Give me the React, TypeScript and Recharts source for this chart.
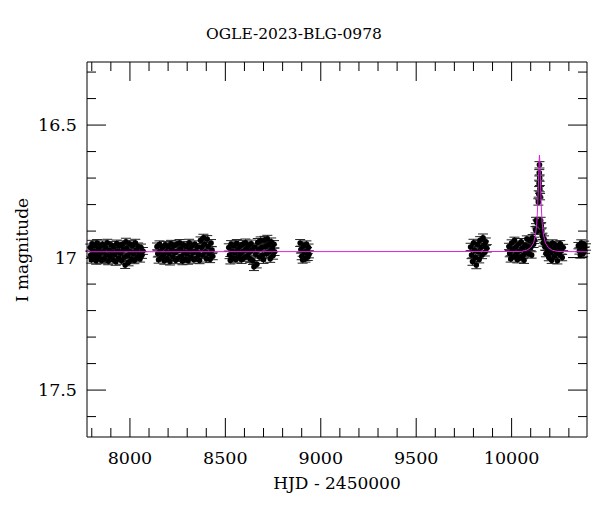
import React from 'react';
import { ComposedChart, Scatter, XAxis, YAxis, ErrorBar } from 'recharts';

// OGLE photometry, one array per observing season: [HJD - 2450000, I mag]
const season1: [number, number][] = [
  [7792, 16.962], [7795, 16.99], [7798, 17.008], [7802, 16.948], [7806, 16.975], [7810, 17.002],
  [7815, 16.955], [7819, 16.985], [7823, 17.012], [7828, 16.945], [7833, 16.97], [7837, 16.998],
  [7842, 16.958], [7846, 16.982], [7851, 17.01], [7856, 16.95], [7861, 16.978], [7866, 17.005],
  [7871, 16.962], [7876, 16.99], [7881, 16.944], [7886, 17.014], [7891, 16.972], [7896, 16.996],
  [7901, 16.952], [7906, 16.98], [7911, 17.008], [7916, 16.96], [7921, 16.988], [7926, 17.016],
  [7931, 16.947], [7936, 16.975], [7941, 17.002], [7946, 16.956], [7951, 16.984], [7956, 17.012],
  [7961, 16.95], [7966, 16.97], [7971, 16.998], [7975, 17.028], [7979, 16.94], [7983, 16.965],
  [7988, 16.992], [7993, 17.018], [7998, 16.948], [8003, 16.978], [8008, 17.006], [8013, 16.955],
  [8018, 16.985], [8023, 17.01], [8028, 16.944], [8033, 16.972], [8038, 17.0], [8043, 16.958],
  [8048, 16.986], [8053, 17.004], [8058, 16.962], [8063, 16.99], [8068, 16.975],
];
const season2: [number, number][] = [
  [8142, 16.958], [8146, 16.985], [8150, 17.008], [8155, 16.95], [8160, 16.975], [8165, 17.0],
  [8170, 16.962], [8175, 16.99], [8180, 17.012], [8185, 16.952], [8190, 16.978], [8195, 17.004],
  [8200, 16.958], [8205, 16.985], [8210, 17.015], [8215, 16.948], [8220, 16.972], [8225, 16.998],
  [8230, 16.955], [8235, 16.982], [8240, 17.01], [8245, 16.95], [8250, 16.975], [8255, 17.002],
  [8260, 16.945], [8265, 16.968], [8270, 16.995], [8275, 17.014], [8280, 16.952], [8285, 16.98],
  [8290, 17.006], [8295, 16.958], [8300, 16.986], [8305, 17.012], [8310, 16.944], [8315, 16.97],
  [8320, 16.998], [8325, 16.955], [8330, 16.982], [8335, 17.008], [8340, 16.95], [8345, 16.975],
  [8350, 17.002], [8355, 16.96], [8360, 16.988], [8365, 17.01], [8370, 16.935], [8375, 16.962],
  [8380, 16.99], [8385, 16.925], [8390, 16.95], [8395, 16.978], [8400, 17.004], [8405, 16.93],
  [8410, 16.958], [8415, 16.985], [8420, 17.006], [8425, 16.945], [8430, 16.972], [8434, 16.995],
];
const season3: [number, number][] = [
  [8518, 16.962], [8522, 16.99], [8526, 17.01], [8530, 16.95], [8535, 16.976], [8540, 17.002],
  [8545, 16.955], [8550, 16.982], [8555, 17.006], [8560, 16.946], [8565, 16.972], [8570, 16.998],
  [8575, 16.958], [8580, 16.985], [8585, 17.008], [8590, 16.95], [8595, 16.975], [8600, 17.0],
  [8605, 16.944], [8610, 16.968], [8615, 16.994], [8620, 16.955], [8625, 16.98], [8630, 17.005],
  [8635, 16.948], [8640, 16.972], [8645, 17.012], [8650, 17.035], [8655, 16.96], [8660, 16.988],
  [8665, 17.025], [8670, 16.942], [8675, 16.97], [8680, 16.998], [8685, 16.936], [8690, 16.962],
  [8695, 16.99], [8700, 17.008], [8705, 16.934], [8710, 16.958], [8715, 16.985], [8720, 16.93],
  [8725, 16.952], [8730, 16.978], [8735, 17.004], [8740, 16.94], [8745, 16.965], [8750, 16.992],
  [8755, 16.95], [8758, 16.978],
];
const season4: [number, number][] = [
  [8892, 16.945], [8896, 16.97], [8900, 16.995], [8905, 17.008], [8910, 16.955], [8915, 16.98],
  [8920, 17.004], [8925, 16.95], [8928, 16.975], [8932, 16.998], [8936, 16.962], [8938, 16.988],
];
const season5: [number, number][] = [
  [9785, 16.96], [9790, 16.99], [9795, 17.015], [9800, 16.945], [9805, 16.972], [9810, 17.0],
  [9815, 17.028], [9820, 16.95], [9825, 16.978], [9830, 17.006], [9835, 16.935], [9840, 16.962],
  [9845, 16.99], [9850, 16.925], [9855, 16.952], [9860, 16.98], [9865, 16.94], [9870, 16.965],
];
const season6: [number, number][] = [
  [9986, 16.958], [9990, 16.985], [9995, 17.005], [10000, 16.945], [10005, 16.97], [10010, 16.996],
  [10015, 16.935], [10020, 16.962], [10025, 16.988], [10030, 17.008], [10035, 16.95], [10040, 16.975],
  [10045, 17.0], [10050, 16.94], [10055, 16.965], [10060, 16.992], [10065, 17.01], [10070, 16.955],
  [10075, 16.98], [10080, 16.93], [10085, 16.958], [10090, 16.985], [10095, 16.935], [10100, 16.962],
  [10105, 16.99], [10110, 16.925], [10115, 16.95], [10120, 16.935], [10125, 16.895], [10128, 16.86],
  [10132, 16.9], [10135, 16.87], [10140, 16.79], [10142, 16.76], [10144, 16.72], [10145, 16.68],
  [10146, 16.65], [10147, 16.7], [10148, 16.74], [10149, 16.77], [10152, 16.86], [10155, 16.88],
  [10158, 16.9], [10162, 16.92], [10166, 16.945], [10170, 16.93], [10175, 16.96], [10180, 16.985],
  [10185, 16.95], [10190, 16.975], [10195, 17.0], [10200, 16.955], [10205, 16.982], [10210, 17.01],
  [10215, 16.945], [10220, 16.97], [10225, 16.995], [10230, 16.952], [10235, 16.98], [10240, 17.012],
  [10245, 16.96], [10250, 16.988], [10255, 16.948], [10260, 16.975], [10265, 17.0], [10270, 16.962],
];
const season7: [number, number][] = [
  [10350, 16.955], [10355, 16.975], [10360, 16.99], [10365, 16.945], [10370, 16.965],
  [10375, 16.985], [10380, 16.95], [10385, 16.972], [10390, 16.96],
];
// typical error bar half-length per season (mag)
const seasonErr = [0.013, 0.013, 0.014, 0.013, 0.014, 0.012, 0.012];

// microlensing model curve
const modelT = [7775, 10050, 10080, 10100, 10115, 10125, 10132, 10137, 10141, 10144, 10146,
  10148, 10151, 10155, 10160, 10167, 10177, 10192, 10212, 10242, 10395];
const modelMag = [16.978, 16.977, 16.972, 16.962, 16.945, 16.915, 16.87, 16.8, 16.71, 16.64, 16.613,
  16.64, 16.71, 16.8, 16.87, 16.915, 16.945, 16.962, 16.972, 16.977, 16.978];

const xTicks = [7800, 7900, 8000, 8100, 8200, 8300, 8400, 8500, 8600, 8700, 8800, 8900, 9000,
  9100, 9200, 9300, 9400, 9500, 9600, 9700, 9800, 9900, 10000, 10100, 10200, 10300];
const xLabels = [8000, 8500, 9000, 9500, 10000];
const yTicks = [16.3, 16.4, 16.5, 16.6, 16.7, 16.8, 16.9, 17, 17.1, 17.2, 17.3, 17.4, 17.5, 17.6];
const yLabels = [16.5, 17, 17.5];

const seasons = [season1, season2, season3, season4, season5, season6, season7];
const points = seasons.flatMap((s, i) => s.map(([t, m]) => ({ t, m, e: seasonErr[i] })));
const model = modelT.map((t, i) => ({ t, m: modelMag[i] }));

const FONT = '"DejaVu Serif", serif';
const MAJOR = 19;
const MINOR = 9;

const BottomTick = ({ x, y, payload }: any) => {
  const major = xLabels.includes(payload.value);
  return (
    <g>
      <line x1={x} x2={x} y1={y} y2={y - (major ? MAJOR : MINOR)} stroke="#000" />
      {major && (
        <text x={x} y={y + 27} textAnchor="middle" fontFamily={FONT} fontSize={17.5} fill="#000">
          {payload.value}
        </text>
      )}
    </g>
  );
};

const TopTick = ({ x, y, payload }: any) => {
  const major = xLabels.includes(payload.value);
  return <line x1={x} x2={x} y1={y} y2={y + (major ? MAJOR : MINOR)} stroke="#000" />;
};

const LeftTick = ({ x, y, payload }: any) => {
  const major = yLabels.includes(payload.value);
  return (
    <g>
      <line x1={x} x2={x + (major ? MAJOR : MINOR)} y1={y} y2={y} stroke="#000" />
      {major && (
        <text x={x - 10} y={y} dy="0.36em" textAnchor="end" fontFamily={FONT} fontSize={17.5} fill="#000">
          {payload.value}
        </text>
      )}
    </g>
  );
};

const RightTick = ({ x, y, payload }: any) => {
  const major = yLabels.includes(payload.value);
  return <line x1={x} x2={x - (major ? MAJOR : MINOR)} y1={y} y2={y} stroke="#000" />;
};

export default function App() {
  return (
    <div style={{ position: 'absolute', left: 0, top: 0, width: 600, height: 512, background: '#fff' }}>
      <div
        style={{
          position: 'absolute', left: 194, top: 23, width: 200, textAlign: 'center',
          fontFamily: FONT, fontSize: 15.5, color: '#000', lineHeight: '22px', whiteSpace: 'nowrap',
        }}
      >
        OGLE-2023-BLG-0978
      </div>
      <div
        style={{
          position: 'absolute', left: 237, top: 472, width: 200, textAlign: 'center',
          fontFamily: FONT, fontSize: 17, color: '#000', lineHeight: '22px', whiteSpace: 'nowrap',
        }}
      >
        HJD - 2450000
      </div>
      <div
        style={{
          position: 'absolute', left: 22, top: 250, transform: 'translate(-50%, -50%) rotate(-90deg)',
          fontFamily: FONT, fontSize: 17, color: '#000', lineHeight: '22px', whiteSpace: 'nowrap',
        }}
      >
        I magnitude
      </div>
      <ComposedChart width={600} height={512} margin={{ top: 61, right: 12, bottom: 15, left: 27 }}>
        <XAxis
          xAxisId="b" dataKey="t" type="number" domain={[7775, 10395]} allowDataOverflow
          ticks={xTicks} interval={0} tickSize={0} tickMargin={0} tick={BottomTick} tickLine={false}
          axisLine={{ stroke: '#000' }} height={60} orientation="bottom"
        />
        <XAxis
          xAxisId="t" dataKey="t" type="number" domain={[7775, 10395]} allowDataOverflow
          ticks={xTicks} interval={0} tickSize={0} tickMargin={0} tick={TopTick} tickLine={false}
          axisLine={{ stroke: '#000' }} height={1} orientation="top"
        />
        <YAxis
          yAxisId="l" dataKey="m" type="number" domain={[16.262, 17.677]} allowDataOverflow reversed
          ticks={yTicks} interval={0} tickSize={0} tickMargin={0} tick={LeftTick} tickLine={false}
          axisLine={{ stroke: '#000' }} width={60} orientation="left"
        />
        <YAxis
          yAxisId="r" dataKey="m" type="number" domain={[16.262, 17.677]} allowDataOverflow reversed
          ticks={yTicks} interval={0} tickSize={0} tickMargin={0} tick={RightTick} tickLine={false}
          axisLine={{ stroke: '#000' }} width={1} orientation="right"
        />
        <Scatter
          data={points} xAxisId="b" yAxisId="l" dataKey="m" isAnimationActive={false}
          shape={(p: any) => <circle cx={p.cx} cy={p.cy} r={2.8} fill="#000" />}
        >
          <ErrorBar dataKey="e" direction="y" width={5} stroke="#222" strokeWidth={1} isAnimationActive={false} />
        </Scatter>
        <Scatter
          data={model} xAxisId="b" yAxisId="l" dataKey="m" isAnimationActive={false}
          line={{ stroke: '#e020e0', strokeWidth: 1 }} shape={() => <g />}
        />
      </ComposedChart>
    </div>
  );
}
